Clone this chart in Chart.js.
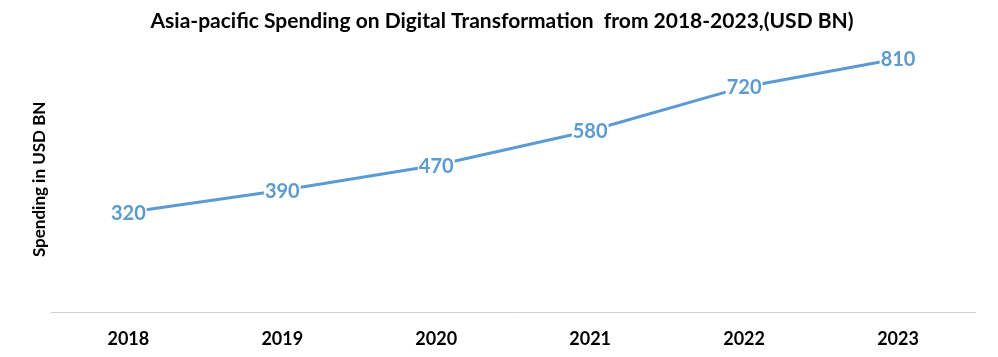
<!DOCTYPE html>
<html>
<head>
<meta charset="utf-8">
<script src="https://cdn.jsdelivr.net/npm/chart.js@4/dist/chart.umd.min.js"></script>
<style>
  html,body{margin:0;padding:0;background:#fff;}
  #wrap{width:998px;height:357px;}
</style>
</head>
<body>
<div id="wrap"><canvas id="c" width="998" height="357"></canvas></div>
<script>
const categories = ["2018","2019","2020","2021","2022","2023"];
const spending = [320, 390, 470, 580, 720, 810];
const titleText = "Asia-pacific Spending on Digital Transformation  from 2018-2023,(USD BN)";
const yTitle = "Spending in USD BN";

const lineColor = "#5B9BD5";

const valueLabels = {
  id: "valueLabels",
  afterDatasetsDraw(chart) {
    const ctx = chart.ctx;
    const meta = chart.getDatasetMeta(0);
    ctx.save();
    ctx.font = "bold 20px Lato, 'Open Sans', sans-serif";
    ctx.textAlign = "center";
    ctx.textBaseline = "middle";
    meta.data.forEach((pt, i) => {
      const txt = String(chart.data.datasets[0].data[i]);
      const w = ctx.measureText(txt).width;
      ctx.fillStyle = "#fff";
      ctx.fillRect(pt.x - w/2 - 1, pt.y - 10, w + 2, 20);
      ctx.fillStyle = lineColor;
      ctx.fillText(txt, pt.x, pt.y + 1);
    });
    ctx.restore();
  }
};

new Chart(document.getElementById("c"), {
  type: "line",
  data: {
    labels: categories,
    datasets: [{
      data: spending,
      borderColor: lineColor,
      borderWidth: 3,
      pointRadius: 0,
      fill: false,
      tension: 0
    }]
  },
  options: {
    responsive: false,
    animation: false,
    events: [],
    layout: { padding: { left: 29, right: 23, top: 0, bottom: -9 } },
    plugins: {
      legend: { display: false },
      tooltip: { enabled: false },
      title: {
        display: true,
        text: titleText,
        color: "#000",
        font: { family: "Lato, 'Open Sans', sans-serif", size: 21, weight: "bold" },
        padding: { top: 9, bottom: 12 }
      }
    },
    scales: {
      x: {
        offset: true,
        grid: { display: false, drawTicks: false },
        border: { display: true, color: "#d0d0d0", width: 1 },
        ticks: {
          color: "#000",
          padding: 16,
          font: { family: "Lato, 'Open Sans', sans-serif", size: 18, weight: "bold" }
        }
      },
      y: {
        min: 0,
        max: 850,
        grid: { display: false, drawTicks: false },
        border: { display: false },
        ticks: { display: false },
        title: {
          display: true,
          text: yTitle,
          color: "#000",
          font: { family: "Lato, 'Open Sans', sans-serif", size: 17, weight: "bold" },
          padding: { top: 0, bottom: 2 }
        }
      }
    }
  },
  plugins: [valueLabels]
});
</script>
</body>
</html>
